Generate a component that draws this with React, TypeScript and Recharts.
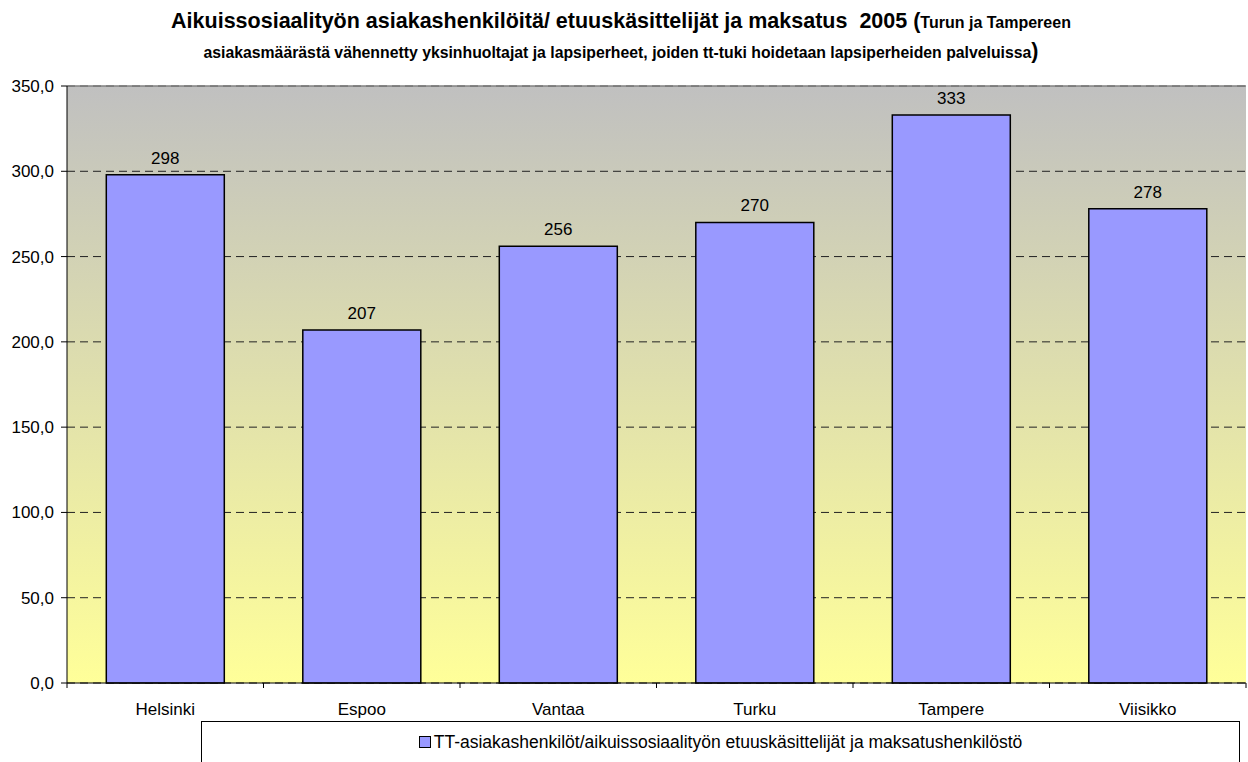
import { BarChart, Bar, XAxis, YAxis, CartesianGrid, LabelList, Legend, ReferenceLine } from 'recharts'

const cities = ['Helsinki', 'Espoo', 'Vantaa', 'Turku', 'Tampere', 'Viisikko']
const clientsPerWorker = [298, 207, 256, 270, 333, 278]
const yTicks = [0, 50, 100, 150, 200, 250, 300, 350]
const seriesName = 'TT-asiakashenkilöt/aikuissosiaalityön etuuskäsittelijät ja maksatushenkilöstö'

const data = cities.map((city, i) => ({ city, value: clientsPerWorker[i] }))

const FONT = '"Liberation Sans", Arial, sans-serif'
const BAR_FILL = '#9999FF'
const TEXT_SIZE = 17

function formatFi(v: number): string {
  return v.toFixed(1).replace('.', ',')
}

// Excel puts the category ticks between the bars, not under them
function CategoryTick(props: any) {
  const { x, y, payload, index, width, visibleTicksCount } = props
  const step = width / visibleTicksCount
  const left = x - step / 2
  return (
    <g>
      <line x1={left} y1={y - 8} x2={left} y2={y - 3} stroke="#000" />
      {index === visibleTicksCount - 1 && (
        <line x1={left + step} y1={y - 8} x2={left + step} y2={y - 3} stroke="#000" />
      )}
      <text x={x} y={y + 24} textAnchor="middle" fill="#000" fontSize={TEXT_SIZE} fontFamily={FONT}>
        {payload.value}
      </text>
    </g>
  )
}

function LegendBox() {
  return (
    <div
      style={{
        height: 41,
        boxSizing: 'border-box',
        borderTop: '1px solid #000',
        borderLeft: '1px solid #000',
        borderRight: '1px solid #000',
        background: '#fff',
        display: 'flex',
        justifyContent: 'center',
        alignItems: 'center',
        fontFamily: FONT,
        fontSize: 17.5,
        color: '#000',
      }}
    >
      <span
        style={{
          display: 'inline-block',
          width: 10,
          height: 10,
          background: BAR_FILL,
          border: '1.5px solid #000',
          marginRight: 3,
        }}
      />
      {seriesName}
    </div>
  )
}

export default function App() {
  return (
    <div style={{ position: 'absolute', left: 0, top: 0, width: 1248, height: 762, background: '#fff', fontFamily: FONT }}>
      <BarChart
        width={1248}
        height={762}
        data={data}
        margin={{ top: 86, right: 2, bottom: 0, left: 0 }}
        barCategoryGap="20%"
      >
        <defs>
          <linearGradient id="plotBg" x1="0" y1="0" x2="0" y2="1">
            <stop offset="0%" stopColor="#C0C0C0" />
            <stop offset="100%" stopColor="#FFFF99" />
          </linearGradient>
        </defs>
        <CartesianGrid
          vertical={false}
          fill="url(#plotBg)"
          fillOpacity={1}
          stroke="#222"
          strokeDasharray="8 5"
        />
        <ReferenceLine y={350} stroke="#808080" strokeWidth={1.5} />
        <XAxis
          dataKey="city"
          height={38}
          axisLine={{ stroke: '#000' }}
          tickLine={false}
          tick={<CategoryTick />}
          interval={0}
        />
        <YAxis
          width={67}
          domain={[0, 350]}
          ticks={yTicks}
          tickFormatter={formatFi}
          axisLine={{ stroke: '#000' }}
          tickLine={{ stroke: '#000' }}
          tickSize={6}
          tickMargin={7}
          tick={{ fill: '#000', fontSize: TEXT_SIZE, fontFamily: FONT }}
        />
        <Legend
          verticalAlign="bottom"
          content={<LegendBox />}
          wrapperStyle={{ left: 201, width: 1039, top: 721, bottom: 'auto' }}
        />
        <Bar dataKey="value" name={seriesName} fill={BAR_FILL} stroke="#000" strokeWidth={1.5} isAnimationActive={false}>
          <LabelList dataKey="value" position="top" offset={11} fill="#000" fontSize={TEXT_SIZE} fontFamily={FONT} />
        </Bar>
      </BarChart>
      <svg width={1248} height={70} style={{ position: 'absolute', left: 0, top: 0 }}>
        <text x={621} y={28} textAnchor="middle" fontFamily={FONT} fontWeight="bold" fill="#000" style={{ whiteSpace: 'pre' }}>
          <tspan fontSize={21.5}>Aikuissosiaalityön asiakashenkilöitä/ etuuskäsittelijät ja maksatus  2005 (</tspan>
          <tspan fontSize={16}>Turun ja Tampereen</tspan>
        </text>
        <text x={621} y={58} textAnchor="middle" fontFamily={FONT} fontWeight="bold" fill="#000">
          <tspan fontSize={15.8}>asiakasmäärästä vähennetty yksinhuoltajat ja lapsiperheet, joiden tt-tuki hoidetaan lapsiperheiden palveluissa</tspan>
          <tspan fontSize={21.5}>)</tspan>
        </text>
      </svg>
    </div>
  )
}
